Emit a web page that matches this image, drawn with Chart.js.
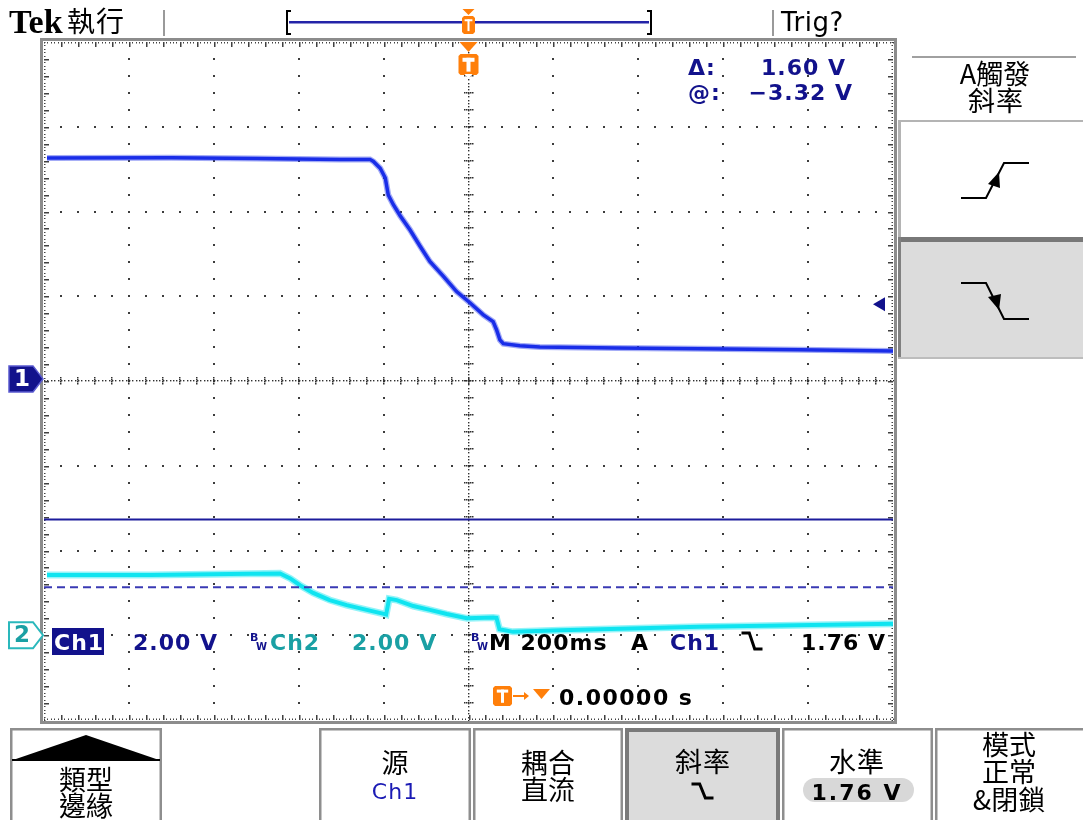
<!DOCTYPE html>
<html>
<head>
<meta charset="utf-8">
<script src="https://cdn.jsdelivr.net/npm/chart.js@4.4.1/dist/chart.umd.min.js"></script>
<style>
  html, body { margin: 0; padding: 0; background: #ffffff; overflow: hidden; }
  canvas { display: block; }
</style>
</head>
<body>
<canvas id="scope" width="1083" height="820"></canvas>
<script>
// Acquisition: 200 ms/div, trigger at t = 0, 10 x 8 divisions
const timeRangeMs = [-1000, 1000];

// Channel 1 (2.00 V/div)
const ch1TimeMs = [-993, -700, -500, -303, -232, -224, -208, -196, -189, -177, -161, -138, -114, -91, -59, -28, 4, 35, 58, 66, 74, 82, 121, 168, 350, 545, 780, 1000];
const ch1Volts  = [5.21, 5.22, 5.20, 5.18, 5.18, 5.13, 4.97, 4.74, 4.34, 4.11, 3.85, 3.52, 3.13, 2.77, 2.42, 2.06, 1.79, 1.51, 1.35, 1.16, 0.92, 0.83, 0.78, 0.75, 0.73, 0.71, 0.69, 0.66];

// Channel 2 (2.00 V/div)
const ch2TimeMs = [-993, -750, -515, -444, -420, -397, -366, -327, -287, -240, -197, -194, -187, -169, -130, -91, -51, -4, 58, 66, 73, 105, 216, 545, 1000];
const ch2Volts  = [1.42, 1.42, 1.45, 1.46, 1.34, 1.18, 1.00, 0.83, 0.71, 0.60, 0.50, 0.49, 0.86, 0.83, 0.69, 0.60, 0.50, 0.40, 0.42, 0.41, 0.14, 0.08, 0.12, 0.20, 0.27];

// Vertical windows (volts, bottom..top) for each channel
const ch1WindowV = [-8.05, 7.95];
const ch2WindowV = [-2, 14];

// Horizontal bar cursors on Ch1: "@" position and "@ - Δ"
const cursorAt = -3.32;
const cursorDelta = 1.60;
const cursorVolts = [cursorAt, cursorAt - cursorDelta];
const triggerLevelV = 1.76;

// Readout strings
const ch1Scale = '2.00 V';
const ch2Scale = '2.00 V';
const timeScale = 'M 200ms';
const triggerPos = '0.00000 s';

const DARK_BLUE = '#12128c';
const TRACE1 = '#1a2ee8';
const TRACE2 = '#10e4f0';
const CH2_TEXT = '#1aa0a4';
const ORANGE = '#ff7f0a';
const READ_FONT = '"DejaVu Sans", sans-serif';
const CJK_FONT = '"Noto Sans CJK TC", "Noto Sans CJK SC", sans-serif';

function pts(xs, ys) { return xs.map((t, i) => ({ x: t, y: ys[i] })); }

function text(ctx, s, x, y, font, color, align, spacing, baseline) {
  ctx.font = font;
  ctx.fillStyle = color;
  ctx.textAlign = align || 'left';
  ctx.textBaseline = baseline || 'alphabetic';
  ctx.letterSpacing = (spacing || 0) + 'px';
  ctx.fillText(s, x, y);
  ctx.letterSpacing = '0px';
}

function dot(ctx, x, y) { ctx.fillRect(Math.round(x) - 1, Math.round(y) - 1, 2, 2); }

// Graticule: dotted division lines, dense centre axes and edge ticks
const graticule = {
  id: 'graticule',
  beforeDatasetsDraw(chart) {
    const { ctx, chartArea: a, scales } = chart;
    const xs = scales.x;
    const divX = [];
    for (let t = timeRangeMs[0]; t <= timeRangeMs[1] + 1; t += 200) divX.push(xs.getPixelForValue(t));
    const dy = (a.bottom - a.top) / 8;
    const divY = [];
    for (let j = 0; j <= 8; j++) divY.push(a.top + j * dy);
    const mx = (divX[1] - divX[0]) / 5, my = dy / 5;
    const cx = divX[5], cy = divY[4];
    ctx.save();
    ctx.fillStyle = '#3c3c3c';
    // ordinary division lines
    for (let i = 1; i < 10; i++) {
      if (i === 5) continue;
      for (let k = 1; k < 40; k++) dot(ctx, divX[i], a.top + k * my);
    }
    for (let j = 1; j < 8; j++) {
      if (j === 4) continue;
      for (let k = 1; k < 50; k++) dot(ctx, a.left + k * mx, divY[j]);
    }
    // centre axes
    ctx.fillStyle = '#303030';
    for (let k = 0; k <= 250; k++) ctx.fillRect(Math.round(a.left + k * mx / 5), Math.round(cy) - 1, 1.4, 1.4);
    for (let k = 0; k <= 200; k++) ctx.fillRect(Math.round(cx) - 1, Math.round(a.top + k * my / 5), 1.4, 1.4);
    for (let k = 1; k < 50; k++) {
      const x = a.left + k * mx;
      for (let d = -3; d <= 3; d += 2) ctx.fillRect(Math.round(x) - 1, Math.round(cy) + d - 1, 1.5, 1.5);
    }
    for (let k = 1; k < 40; k++) {
      const y = a.top + k * my;
      for (let d = -4; d <= 4; d += 2) ctx.fillRect(Math.round(cx) + d - 1, Math.round(y) - 1, 1.5, 1.5);
    }
    // frame
    ctx.strokeStyle = '#8c8c8c';
    ctx.lineWidth = 3;
    ctx.strokeRect(a.left - 2.5, a.top - 2.5, a.right - a.left + 5, a.bottom - a.top + 5);
    // edge ticks
    ctx.fillStyle = '#404040';
    for (let k = 0; k <= 250; k++) {
      const x = Math.round(a.left + k * mx / 5);
      ctx.fillRect(x, a.top, 1, 1.5);
      ctx.fillRect(x, a.bottom - 1.5, 1, 1.5);
    }
    for (let k = 0; k <= 200; k++) {
      const y = Math.round(a.top + k * my / 5);
      ctx.fillRect(a.left, y, 1.5, 1);
      ctx.fillRect(a.right - 1.5, y, 1.5, 1);
    }
    for (let k = 1; k < 50; k++) {
      const x = Math.round(a.left + k * mx);
      ctx.fillRect(x, a.top, 1.5, 5);
      ctx.fillRect(x, a.bottom - 5, 1.5, 5);
    }
    for (let k = 1; k < 40; k++) {
      const y = Math.round(a.top + k * my);
      ctx.fillRect(a.left, y, 5, 1.5);
      ctx.fillRect(a.right - 5, y, 5, 1.5);
    }
    ctx.restore();
  }
};

function orangeT(ctx, x, y, w, h) {
  ctx.fillStyle = ORANGE;
  ctx.beginPath();
  ctx.moveTo(x + 2, y);
  ctx.lineTo(x + w - 2, y);
  ctx.lineTo(x + w, y + 2);
  ctx.lineTo(x + w, y + h - 2);
  ctx.lineTo(x + w - 2, y + h);
  ctx.lineTo(x + 2, y + h);
  ctx.lineTo(x, y + h - 2);
  ctx.lineTo(x, y + 2);
  ctx.closePath();
  ctx.fill();
  ctx.fillStyle = '#ffffff';
  const sw = Math.max(2, Math.round(w * 0.18));
  ctx.fillRect(x + w * 0.2, y + h * 0.18, w * 0.6, sw);
  ctx.fillRect(x + w / 2 - sw / 2, y + h * 0.18, sw, h * 0.66);
}

function fallingEdge(ctx, x, y, w, h, lw) {
  ctx.save();
  ctx.strokeStyle = '#000';
  ctx.lineWidth = lw;
  ctx.lineCap = 'square';
  ctx.beginPath();
  ctx.moveTo(x, y);
  ctx.lineTo(x + w * 0.35, y);
  ctx.lineTo(x + w * 0.65, y + h);
  ctx.lineTo(x + w, y + h);
  ctx.stroke();
  ctx.restore();
}

function button(ctx, x0, x1, y0, y1, selected) {
  ctx.save();
  ctx.fillStyle = selected ? '#dcdcdc' : '#ffffff';
  ctx.fillRect(x0, y0, x1 - x0, y1 - y0);
  ctx.strokeStyle = selected ? '#7a7a7a' : '#8e8e8e';
  ctx.lineWidth = selected ? 4 : 2.5;
  ctx.strokeRect(x0 + ctx.lineWidth / 2, y0 + ctx.lineWidth / 2, x1 - x0 - ctx.lineWidth, y1 - y0 + 4);
  ctx.restore();
}

function pentagon(ctx, x0, tipX, yc, hh) {
  ctx.beginPath();
  ctx.moveTo(x0, yc - hh);
  ctx.lineTo(tipX - 10, yc - hh);
  ctx.lineTo(tipX, yc);
  ctx.lineTo(tipX - 10, yc + hh);
  ctx.lineTo(x0, yc + hh);
  ctx.closePath();
}

// Screen furniture: status bar, readouts, markers and menus
const furniture = {
  id: 'furniture',
  afterDraw(chart) {
    const { ctx, chartArea: a, scales } = chart;
    const trigX = scales.x.getPixelForValue(0);
    ctx.save();

    // status bar
    text(ctx, 'Tek', 9, 33, 'bold 34px "Liberation Serif", serif', '#000');
    text(ctx, '執行', 96, 21, '28px ' + CJK_FONT, '#000', 'center', 1, 'middle');
    ctx.fillStyle = '#9a9a9a';
    ctx.fillRect(163, 10, 2, 26);
    ctx.fillRect(772, 10, 2, 26);
    text(ctx, 'Trig?', 781, 31, '26px ' + READ_FONT, '#000', 'left', 0.5);
    // record view bar
    ctx.fillStyle = '#2424a8';
    ctx.fillRect(289, 21, 360, 2.5);
    ctx.fillStyle = '#000';
    ctx.fillRect(286, 10, 2, 25); ctx.fillRect(286, 10, 5, 2); ctx.fillRect(286, 33, 5, 2);
    ctx.fillRect(650, 10, 2, 25); ctx.fillRect(647, 10, 5, 2); ctx.fillRect(647, 33, 5, 2);
    ctx.fillStyle = ORANGE;
    ctx.beginPath();
    ctx.moveTo(trigX - 6, 9); ctx.lineTo(trigX + 6, 9); ctx.lineTo(trigX, 15); ctx.closePath(); ctx.fill();
    orangeT(ctx, trigX - 6.5, 16, 13, 18);
    // trigger position marker
    ctx.fillStyle = ORANGE;
    ctx.beginPath();
    ctx.moveTo(trigX - 9, 42); ctx.lineTo(trigX + 9, 42); ctx.lineTo(trigX, 52); ctx.closePath(); ctx.fill();
    orangeT(ctx, trigX - 10, 54, 20, 21);
    ctx.beginPath();
    ctx.moveTo(trigX - 4, 74); ctx.lineTo(trigX + 4, 74); ctx.lineTo(trigX, 79); ctx.closePath(); ctx.fill();

    // cursor readout
    const rf = 'bold 22px ' + READ_FONT;
    text(ctx, 'Δ:', 688, 75, rf, DARK_BLUE, 'left', 1);
    text(ctx, cursorDelta.toFixed(2) + ' V', 846, 75, rf, DARK_BLUE, 'right', 1);
    text(ctx, '@:', 688, 100, rf, DARK_BLUE, 'left', 1);
    text(ctx, '\u2212' + Math.abs(cursorAt).toFixed(2) + ' V', 853, 100, rf, DARK_BLUE, 'right', 1);

    // trigger level arrow (right edge)
    const ty = scales.y.getPixelForValue(triggerLevelV);
    ctx.fillStyle = DARK_BLUE;
    ctx.beginPath();
    ctx.moveTo(873, ty); ctx.lineTo(885, ty - 7); ctx.lineTo(885, ty + 7); ctx.closePath(); ctx.fill();

    // channel ground markers
    const g1 = scales.y.getPixelForValue(0);
    pentagon(ctx, 9, a.left - 1, g1, 13);
    ctx.fillStyle = DARK_BLUE; ctx.fill();
    ctx.strokeStyle = '#5a5ad0'; ctx.lineWidth = 1.5; ctx.stroke();
    text(ctx, '1', 22, g1 + 1, 'bold 23px ' + READ_FONT, '#ffffff', 'center', 0, 'middle');
    const g2 = scales.y2.getPixelForValue(0);
    pentagon(ctx, 9, a.left - 1, g2, 13);
    ctx.fillStyle = '#ffffff'; ctx.fill();
    ctx.strokeStyle = '#2ab8bc'; ctx.lineWidth = 2; ctx.stroke();
    text(ctx, '2', 22, g2 + 1, 'bold 23px ' + READ_FONT, CH2_TEXT, 'center', 0, 'middle');

    // bottom readout inside the graticule
    ctx.fillStyle = DARK_BLUE;
    ctx.fillRect(52, 628, 52, 27);
    text(ctx, 'Ch1', 54, 650, rf, '#ffffff', 'left', 1);
    text(ctx, ch1Scale, 133, 650, rf, DARK_BLUE, 'left', 1);
    text(ctx, 'B', 250, 641, 'bold 11px ' + READ_FONT, DARK_BLUE);
    text(ctx, 'W', 256, 650, 'bold 10px ' + READ_FONT, DARK_BLUE);
    text(ctx, 'Ch2', 270, 650, rf, CH2_TEXT, 'left', 1);
    text(ctx, ch2Scale, 352, 650, rf, CH2_TEXT, 'left', 1);
    text(ctx, 'B', 471, 641, 'bold 11px ' + READ_FONT, DARK_BLUE);
    text(ctx, 'W', 477, 650, 'bold 10px ' + READ_FONT, DARK_BLUE);
    text(ctx, timeScale, 489, 650, rf, '#000', 'left', 1);
    text(ctx, 'A', 631, 650, rf, '#000', 'left', 1);
    text(ctx, 'Ch1', 670, 650, rf, DARK_BLUE, 'left', 1);
    fallingEdge(ctx, 743, 633, 18, 16, 3);
    text(ctx, triggerLevelV.toFixed(2) + ' V', 886, 650, rf, '#000', 'right', 1);

    orangeT(ctx, 493, 686, 19, 20);
    ctx.strokeStyle = ORANGE; ctx.lineWidth = 2;
    ctx.beginPath(); ctx.moveTo(513, 696); ctx.lineTo(526, 696); ctx.stroke();
    ctx.fillStyle = ORANGE;
    ctx.beginPath(); ctx.moveTo(524, 692); ctx.lineTo(529, 696); ctx.lineTo(524, 700); ctx.closePath(); ctx.fill();
    ctx.beginPath(); ctx.moveTo(533, 689); ctx.lineTo(550, 689); ctx.lineTo(541.5, 699); ctx.closePath(); ctx.fill();
    text(ctx, triggerPos, 559, 705, rf, '#000', 'left', 1.5);

    // side menu
    ctx.fillStyle = '#a0a0a0';
    ctx.fillRect(912, 56, 164, 2);
    text(ctx, 'A觸發', 995, 74, '27px ' + CJK_FONT, '#000', 'center', 0, 'middle');
    text(ctx, '斜率', 996, 101, '27px ' + CJK_FONT, '#000', 'center', 1, 'middle');
    ctx.fillStyle = '#ffffff';
    ctx.fillRect(899, 121, 184, 117);
    ctx.fillStyle = '#b4b4b4';
    ctx.fillRect(898, 120, 185, 2);
    ctx.fillRect(898, 120, 3, 118);
    ctx.fillStyle = '#787878';
    ctx.fillRect(898, 237, 185, 5);
    ctx.fillStyle = '#dcdcdc';
    ctx.fillRect(900, 242, 183, 116);
    ctx.fillStyle = '#808080';
    ctx.fillRect(898, 237, 3, 122);
    ctx.fillStyle = '#bdbdbd';
    ctx.fillRect(898, 357, 185, 2);
    // rising / falling slope icons
    ctx.strokeStyle = '#000'; ctx.lineWidth = 2;
    ctx.beginPath();
    ctx.moveTo(961, 198); ctx.lineTo(986, 198); ctx.lineTo(1004, 163); ctx.lineTo(1029, 163);
    ctx.stroke();
    ctx.fillStyle = '#000';
    ctx.beginPath(); ctx.moveTo(999, 172); ctx.lineTo(1000, 188); ctx.lineTo(988, 184); ctx.closePath(); ctx.fill();
    ctx.beginPath();
    ctx.moveTo(961, 283); ctx.lineTo(986, 283); ctx.lineTo(1004, 319); ctx.lineTo(1029, 319);
    ctx.stroke();
    ctx.beginPath(); ctx.moveTo(999, 310); ctx.lineTo(988, 297); ctx.lineTo(1001, 294); ctx.closePath(); ctx.fill();

    // bottom menu
    const by0 = 728, by1 = 820;
    button(ctx, 10, 162, by0, by1, false);
    ctx.fillStyle = '#000';
    ctx.beginPath(); ctx.moveTo(13, 760); ctx.lineTo(86, 735); ctx.lineTo(159, 760); ctx.closePath(); ctx.fill();
    ctx.fillRect(12, 759, 148, 2);
    text(ctx, '類型', 86, 780, '27px ' + CJK_FONT, '#000', 'center', 0, 'middle');
    text(ctx, '邊緣', 86, 806, '27px ' + CJK_FONT, '#000', 'center', 0, 'middle');

    button(ctx, 319, 471, by0, by1, false);
    text(ctx, '源', 395, 763, '27px ' + CJK_FONT, '#000', 'center', 0, 'middle');
    text(ctx, 'Ch1', 395, 799, '22px ' + READ_FONT, '#1a1ab4', 'center', 1);

    button(ctx, 473, 623, by0, by1, false);
    text(ctx, '耦合', 548, 763, '27px ' + CJK_FONT, '#000', 'center', 0, 'middle');
    text(ctx, '直流', 548, 790, '27px ' + CJK_FONT, '#000', 'center', 0, 'middle');

    button(ctx, 625, 780, by0, by1, true);
    text(ctx, '斜率', 703, 762, '27px ' + CJK_FONT, '#000', 'center', 1, 'middle');
    fallingEdge(ctx, 693, 784, 19, 14, 3);

    button(ctx, 782, 933, by0, by1, false);
    text(ctx, '水準', 857, 762, '27px ' + CJK_FONT, '#000', 'center', 1, 'middle');
    ctx.fillStyle = '#d8d8d8';
    ctx.beginPath();
    ctx.moveTo(815, 778); ctx.lineTo(902, 778);
    ctx.arc(902, 790, 12, -Math.PI / 2, Math.PI / 2);
    ctx.lineTo(815, 802);
    ctx.arc(815, 790, 12, Math.PI / 2, Math.PI * 1.5);
    ctx.closePath(); ctx.fill();
    text(ctx, triggerLevelV.toFixed(2) + ' V', 857, 800, 'bold 22px ' + READ_FONT, '#000', 'center', 2);

    button(ctx, 935, 1090, by0, by1, false);
    text(ctx, '模式', 1009, 745, '27px ' + CJK_FONT, '#000', 'center', 0, 'middle');
    text(ctx, '正常', 1009, 772, '27px ' + CJK_FONT, '#000', 'center', 0, 'middle');
    text(ctx, '&閉鎖', 1009, 800, '27px ' + CJK_FONT, '#000', 'center', 0, 'middle');

    ctx.restore();
  }
};

const lineDefaults = { pointRadius: 0, tension: 0, fill: false, clip: 0 };

new Chart(document.getElementById('scope'), {
  type: 'line',
  data: {
    datasets: [
      Object.assign({ label: 'cursor @', data: pts([timeRangeMs[0], timeRangeMs[1]], [cursorVolts[0], cursorVolts[0]]),
        borderColor: '#1c1c9c', borderWidth: 2, yAxisID: 'y' }, lineDefaults),
      Object.assign({ label: 'cursor Δ', data: pts([timeRangeMs[0], timeRangeMs[1]], [cursorVolts[1], cursorVolts[1]]),
        borderColor: '#3a3ab4', borderWidth: 2, borderDash: [8, 5], yAxisID: 'y' }, lineDefaults),
      Object.assign({ label: 'Ch2 haze', data: pts(ch2TimeMs, ch2Volts), borderColor: 'rgba(16,228,240,0.45)', borderWidth: 7, yAxisID: 'y2' }, lineDefaults),
      Object.assign({ label: 'Ch2', data: pts(ch2TimeMs, ch2Volts), borderColor: TRACE2, borderWidth: 4, yAxisID: 'y2' }, lineDefaults),
      Object.assign({ label: 'Ch1 haze', data: pts(ch1TimeMs, ch1Volts), borderColor: 'rgba(26,46,232,0.4)', borderWidth: 6, yAxisID: 'y' }, lineDefaults),
      Object.assign({ label: 'Ch1', data: pts(ch1TimeMs, ch1Volts), borderColor: TRACE1, borderWidth: 3.5, yAxisID: 'y' }, lineDefaults)
    ]
  },
  options: {
    responsive: false,
    devicePixelRatio: 1,
    animation: false,
    parsing: true,
    layout: { padding: { left: 44, top: 42, right: 190, bottom: 100 } },
    plugins: { legend: { display: false }, tooltip: { enabled: false } },
    scales: {
      x: { type: 'linear', min: timeRangeMs[0], max: timeRangeMs[1], display: false },
      y: { type: 'linear', min: ch1WindowV[0], max: ch1WindowV[1], display: false },
      y2: { type: 'linear', min: ch2WindowV[0], max: ch2WindowV[1], display: false }
    }
  },
  plugins: [graticule, furniture]
});
</script>
</body>
</html>
